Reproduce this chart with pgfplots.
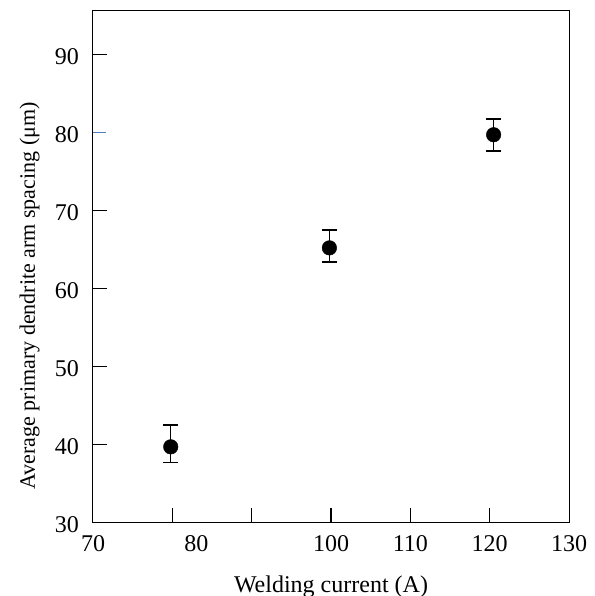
\documentclass[border=0pt]{standalone}
\usepackage{fontspec}
\setmainfont{Liberation Serif}
\usepackage{pgfplots}
\pgfplotsset{compat=1.18}
\definecolor{tickblue}{RGB}{74,126,187}

\begin{document}
\begin{tikzpicture}
\begin{axis}[
    scale only axis,
    width=476pt, height=511.8pt,
    xmin=70, xmax=130, ymin=30, ymax=95.6,
    xtick={80,90,100,110,120},
    xticklabels={\raisebox{-2.5pt}{\hspace*{48pt}80},,\raisebox{-2.5pt}{100},110,120},
    extra x ticks={70,130},
    extra x tick style={major tick length=0pt},
    ytick={30,40,50,60,70,90},
    extra y ticks={80},
    extra y tick style={major tick length=13pt, tick style={tickblue, line width=1pt}},
    xtick pos=bottom, ytick pos=left,
    tick align=inside,
    major tick length=14pt,
    tick style={black, line width=1.5pt},
    axis line style={black, line width=1pt},
    /pgf/number format/assume math mode=true,
    tick label style={font=\fontsize{24}{28}\selectfont},
    yticklabel style={anchor=east, inner sep=0pt, xshift=-14pt, yshift=-2pt},
    xticklabel style={anchor=north, inner sep=0pt, yshift=-12.5pt},
    xlabel={Welding current (A)},
    ylabel={Average primary dendrite arm spacing (μm)},
    xlabel style={font=\fontsize{24}{28}\selectfont, at={(axis description cs:0.5,-0.1358)}, anchor=base},
    ylabel style={font=\fontsize{22}{26}\selectfont, at={(axis description cs:-0.1334,0.4426)}, anchor=center},
]
\addplot[
    only marks, mark=*, mark size=7.3pt, black,
    error bars/.cd, y dir=both, y explicit,
    error bar style={line width=1.5pt, black},
    error mark options={rotate=90, mark size=7.5pt, line width=1.5pt, black},
] table[x=x, y=y, y error plus=ep, y error minus=em] {
    x      y     ep   em
    79.8   39.7  2.8  2.0
    99.8   65.2  2.3  1.8
    120.5  79.7  2.0  2.1
};
\end{axis}
\pgfresetboundingbox
\path[use as bounding box] ([shift={(-93pt,-73.5pt)}]current axis.south west) rectangle ([shift={(26pt,10.7pt)}]current axis.north east);
\end{tikzpicture}
\end{document}
